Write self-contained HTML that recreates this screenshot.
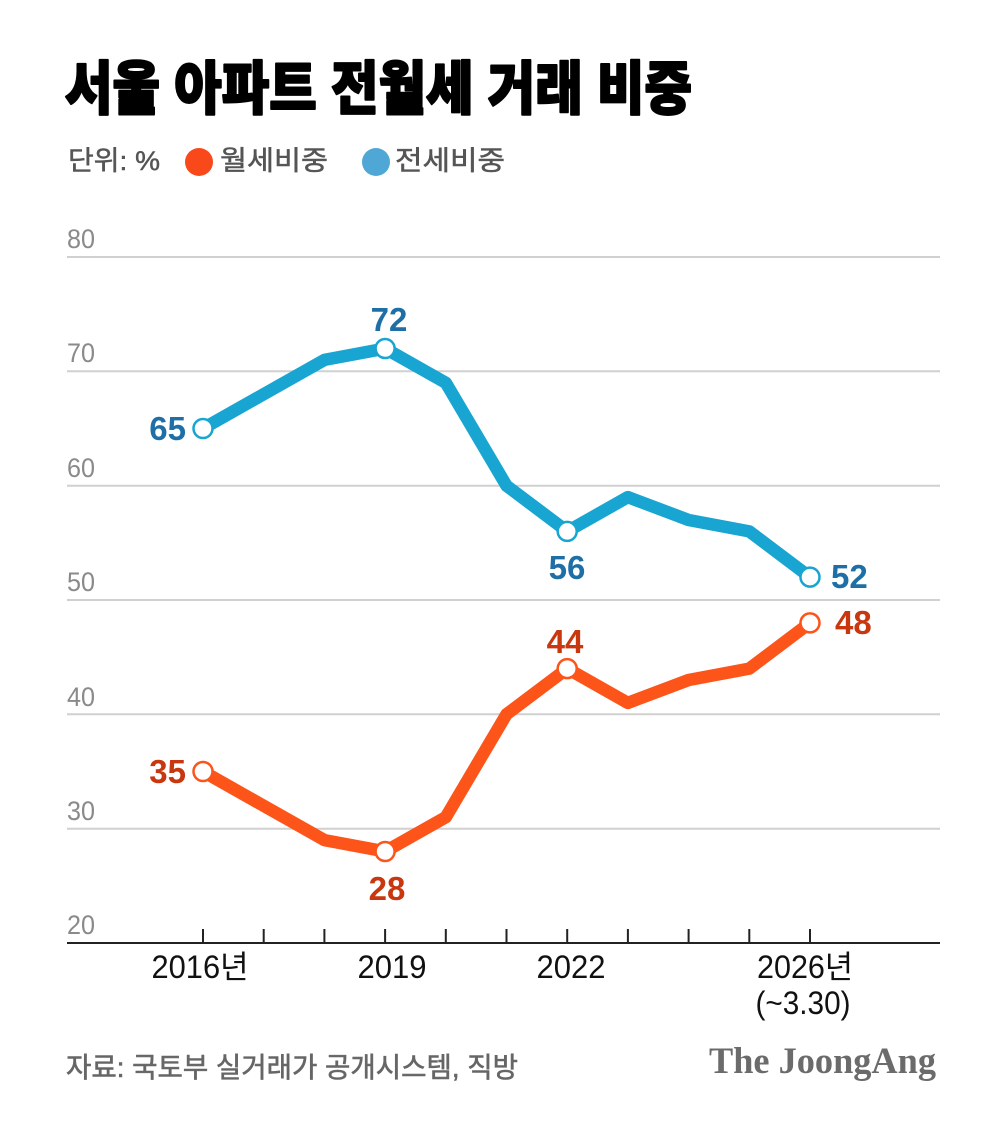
<!DOCTYPE html>
<html>
<head>
<meta charset="utf-8">
<style>
  html, body { margin:0; padding:0; background:#fff; }
  body { width:1000px; height:1131px; overflow:hidden; }
  svg { display:block; }
  .ko { font-family: "Liberation Sans", "Noto Sans CJK KR", "NanumGothic", sans-serif; }
</style>
</head>
<body>
<svg width="1000" height="1131" viewBox="0 0 1000 1131" xmlns="http://www.w3.org/2000/svg">
  <rect width="1000" height="1131" fill="#ffffff"/>

  <!-- Title -->
  <text class="ko" x="65" y="109" font-size="58" font-weight="900" fill="#000" stroke="#000" stroke-width="2" stroke-linejoin="round" textLength="627" lengthAdjust="spacingAndGlyphs">서울 아파트 전월세 거래 비중</text>

  <!-- Legend -->
  <text class="ko" x="68" y="170" font-size="27" fill="#555" stroke="#555" stroke-width="0.5" textLength="92" lengthAdjust="spacingAndGlyphs">단위: %</text>
  <circle cx="199" cy="162" r="14" fill="#f9491a"/>
  <text class="ko" x="220" y="170" font-size="27" fill="#555" stroke="#555" stroke-width="0.5" textLength="108" lengthAdjust="spacingAndGlyphs">월세비중</text>
  <circle cx="376" cy="162" r="14" fill="#4fa7d6"/>
  <text class="ko" x="395" y="170" font-size="27" fill="#555" stroke="#555" stroke-width="0.5" textLength="110" lengthAdjust="spacingAndGlyphs">전세비중</text>

  <!-- Gridlines -->
  <g stroke="#d0d0d0" stroke-width="2">
    <line x1="67" y1="257" x2="940" y2="257"/>
    <line x1="67" y1="371.3" x2="940" y2="371.3"/>
    <line x1="67" y1="485.7" x2="940" y2="485.7"/>
    <line x1="67" y1="600" x2="940" y2="600"/>
    <line x1="67" y1="714.3" x2="940" y2="714.3"/>
    <line x1="67" y1="828.7" x2="940" y2="828.7"/>
  </g>

  <!-- Y labels -->
  <g font-family="Liberation Sans, sans-serif" font-size="27" fill="#8a8a8a">
    <text x="67" y="248" textLength="28" lengthAdjust="spacingAndGlyphs">80</text>
    <text x="67" y="362" textLength="28" lengthAdjust="spacingAndGlyphs">70</text>
    <text x="67" y="477" textLength="28" lengthAdjust="spacingAndGlyphs">60</text>
    <text x="67" y="591" textLength="28" lengthAdjust="spacingAndGlyphs">50</text>
    <text x="67" y="706" textLength="28" lengthAdjust="spacingAndGlyphs">40</text>
    <text x="67" y="820" textLength="28" lengthAdjust="spacingAndGlyphs">30</text>
    <text x="67" y="934" textLength="28" lengthAdjust="spacingAndGlyphs">20</text>
  </g>

  <!-- Axis -->
  <line x1="67" y1="943" x2="940" y2="943" stroke="#222" stroke-width="2"/>
  <g stroke="#222" stroke-width="2">
    <line x1="203" y1="929" x2="203" y2="943"/>
    <line x1="263.7" y1="929" x2="263.7" y2="943"/>
    <line x1="324.4" y1="929" x2="324.4" y2="943"/>
    <line x1="385.1" y1="929" x2="385.1" y2="943"/>
    <line x1="445.8" y1="929" x2="445.8" y2="943"/>
    <line x1="506.5" y1="929" x2="506.5" y2="943"/>
    <line x1="567.2" y1="929" x2="567.2" y2="943"/>
    <line x1="627.9" y1="929" x2="627.9" y2="943"/>
    <line x1="688.6" y1="929" x2="688.6" y2="943"/>
    <line x1="749.3" y1="929" x2="749.3" y2="943"/>
    <line x1="810" y1="929" x2="810" y2="943"/>
  </g>

  <!-- X labels -->
  <g class="ko" font-size="32" fill="#111" text-anchor="middle">
    <text x="200" y="978" textLength="97" lengthAdjust="spacingAndGlyphs">2016년</text>
    <text x="392" y="978" textLength="69" lengthAdjust="spacingAndGlyphs">2019</text>
    <text x="571" y="978" textLength="69" lengthAdjust="spacingAndGlyphs">2022</text>
    <text x="805" y="978" textLength="96" lengthAdjust="spacingAndGlyphs">2026년</text>
    <text x="803" y="1014" textLength="95" lengthAdjust="spacingAndGlyphs">(~3.30)</text>
  </g>

  <!-- Blue series (전세) -->
  <polyline fill="none" stroke="#19a5d1" stroke-width="12.5" stroke-linejoin="round" stroke-linecap="round"
    points="203,428.5 263.7,394.2 324.4,359.9 385.1,348.5 445.8,382.8 506.5,485.7 567.2,531.4 627.9,497.1 688.6,520 749.3,531.4 810,577.1"/>
  <!-- Orange series (월세) -->
  <polyline fill="none" stroke="#fd5419" stroke-width="12.5" stroke-linejoin="round" stroke-linecap="round"
    points="203,771.5 263.7,805.8 324.4,840.1 385.1,851.5 445.8,817.2 506.5,714.3 567.2,668.6 627.9,702.9 688.6,680 749.3,668.6 810,622.9"/>

  <!-- Markers -->
  <g fill="#fff" stroke="#19a5d1" stroke-width="2.5">
    <circle cx="203" cy="428.5" r="9.5"/>
    <circle cx="385.1" cy="348.5" r="9.5"/>
    <circle cx="567.2" cy="531.4" r="9.5"/>
    <circle cx="810" cy="577.1" r="9.5"/>
  </g>
  <g fill="#fff" stroke="#fd5419" stroke-width="2.5">
    <circle cx="203" cy="771.5" r="9.5"/>
    <circle cx="385.1" cy="851.5" r="9.5"/>
    <circle cx="567.2" cy="668.6" r="9.5"/>
    <circle cx="810" cy="622.9" r="9.5"/>
  </g>

  <!-- Value labels -->
  <g font-family="Liberation Sans, sans-serif" font-size="33" font-weight="bold" fill="#1d6fa6">
    <text x="186" y="440" text-anchor="end">65</text>
    <text x="389" y="331" text-anchor="middle">72</text>
    <text x="567" y="579" text-anchor="middle">56</text>
    <text x="831" y="588">52</text>
  </g>
  <g font-family="Liberation Sans, sans-serif" font-size="33" font-weight="bold" fill="#c9370f">
    <text x="186" y="783" text-anchor="end">35</text>
    <text x="387" y="900" text-anchor="middle">28</text>
    <text x="565" y="653" text-anchor="middle">44</text>
    <text x="835" y="634">48</text>
  </g>

  <!-- Footer -->
  <text class="ko" x="66" y="1077" font-size="28" fill="#666" stroke="#666" stroke-width="0.6" textLength="452" lengthAdjust="spacingAndGlyphs">자료: 국토부 실거래가 공개시스템, 직방</text>
  <text x="709" y="1073" font-family="Liberation Serif, serif" font-size="37" font-weight="bold" fill="#6b6b6b" textLength="227" lengthAdjust="spacingAndGlyphs">The JoongAng</text>
</svg>
</body>
</html>
